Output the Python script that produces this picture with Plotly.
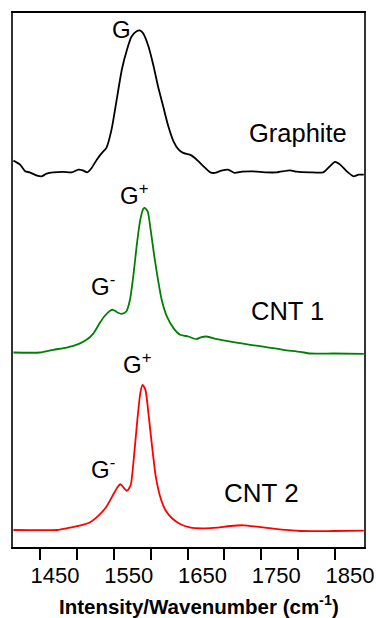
import plotly.graph_objects as go

# Wavenumbers (cm^-1) and relative intensities
graphite_x = [1414, 1423, 1430, 1436, 1446, 1452, 1459, 1468, 1482, 1493, 1502, 1508, 1514, 1520,
              1527, 1534, 1540, 1547, 1554, 1561, 1568, 1574, 1581, 1586, 1590, 1597, 1604, 1610,
              1617, 1624, 1631, 1638, 1644, 1653, 1660, 1667, 1674, 1681, 1687, 1696, 1705, 1714,
              1724, 1739, 1757, 1771, 1789, 1798, 1816, 1834, 1843, 1850, 1857, 1866, 1875, 1882, 1889]
graphite_y = [12, 8, 1.3, 0.3, -3, -3.7, -1, 0.3, 0.7, 0.3, 3, 2.3, 0.3, 4.7,
              13, 19.7, 24.7, 43, 73, 103, 123, 135.7, 141.3, 142, 139, 126.3, 106.3, 86.3,
              66.3, 46.3, 31.3, 23, 19.7, 18, 14.7, 9.7, 4.7, 0.3, -0.3, 2, 3, -0.3,
              1, 1.3, 0.3, 0.3, 2.3, 1, 0.3, 0.3, 6.3, 10.7, 8, 1.3, -3.7, -2, -2]

cnt1_x = [1414, 1450, 1468, 1486, 1502, 1513, 1522, 1531, 1538, 1545, 1549, 1555, 1561, 1567,
          1572, 1577, 1581, 1586, 1590, 1592, 1596, 1600, 1605, 1610, 1615, 1622, 1631, 1640,
          1651, 1662, 1669, 1676, 1690, 1712, 1735, 1757, 1780, 1803, 1816, 1848, 1889]
cnt1_y = [0.3, 0.3, 3, 5.3, 8.7, 13, 19, 29.7, 37, 42, 43, 40.3, 39, 41.3,
          53, 79.7, 106.3, 133, 143.7, 144.7, 141.3, 123, 96.3, 73, 53, 36.3, 24.7, 18,
          16.3, 13.7, 15.7, 16.3, 13.7, 10.7, 8, 5.7, 3, 1, -0.7, -0.7, -1]

cnt2_x = [1414, 1473, 1486, 1504, 1518, 1529, 1540, 1549, 1555, 1559, 1564, 1568, 1573, 1577,
          1582, 1586, 1589, 1593, 1597, 1602, 1607, 1613, 1620, 1629, 1640, 1653, 1671, 1690,
          1708, 1726, 1744, 1766, 1803, 1848, 1889]
cnt2_y = [0, 0, 1.7, 4.3, 7.7, 14, 23.3, 35, 42.7, 45.7, 41.7, 39, 45, 70,
          110, 136.7, 145, 140, 116.7, 83.3, 53.3, 33.3, 20, 11.7, 6, 2.7, 1.7, 2.3,
          4, 4.7, 3.3, 1.3, -1, -1, -0.7]

offsets = {"Graphite": 374, "CNT 1": 194, "CNT 2": 17}
colors = {"Graphite": "#000000", "CNT 1": "#008000", "CNT 2": "#ff0000"}

tick_vals = [1450, 1550, 1650, 1750, 1850]
tick_text = ["1450", "1550", "1650", "1750", "1850"]

series = [("Graphite", graphite_x, graphite_y),
          ("CNT 1", cnt1_x, cnt1_y),
          ("CNT 2", cnt2_x, cnt2_y)]

fig = go.Figure()
for name, xs, ys in series:
    off = offsets[name]
    fig.add_trace(go.Scatter(
        x=xs, y=[v + off for v in ys], mode="lines", name=name,
        line=dict(color=colors[name], width=1.8, shape="spline", smoothing=0.6),
        showlegend=False, hoverinfo="skip"))

font_main = "Liberation Sans, Arial, sans-serif"
labels = [
    (1560, 517, "G", 24),
    (1800, 414, "Graphite", 25.5),
    (1577, 353, "G<sup>+</sup>", 24),
    (1535, 262, "G<sup>-</sup>", 24),
    (1785, 236, "CNT 1", 25.5),
    (1581, 184, "G<sup>+</sup>", 24),
    (1535, 79, "G<sup>-</sup>", 24),
    (1750, 54, "CNT 2", 26),
]
for lx, ly, txt, fs in labels:
    fig.add_annotation(x=lx, y=ly, xref="x", yref="y", text=txt, showarrow=False,
                       font=dict(family=font_main, size=fs, color="black"),
                       xanchor="center", yanchor="middle")

# x-axis title (placed as annotation to match its offset in the reference)
fig.add_annotation(x=0.531, y=-0.108, xref="paper", yref="paper",
                   text="<b>Intensity/Wavenumber (cm<sup>-1</sup>)</b>", showarrow=False,
                   font=dict(family=font_main, size=20.5, color="black"),
                   xanchor="center", yanchor="middle")

fig.update_layout(
    width=376, height=618,
    margin=dict(l=13, r=12, t=13, b=71),
    paper_bgcolor="white", plot_bgcolor="white",
    font=dict(family=font_main, color="black"),
)
fig.update_xaxes(
    range=[1413.4, 1889.3], showgrid=False, zeroline=False, automargin=False,
    showline=True, linecolor="black", linewidth=1.5, mirror=True,
    ticks="outside", ticklen=11, tickwidth=1.5, tickcolor="black",
    tickvals=tick_vals, ticktext=tick_text,
    minor=dict(ticks="outside", ticklen=11, tickwidth=1.5, tickcolor="black",
               tick0=1450, dtick=50, showgrid=False),
    ticklabelshift=15, ticklabelstandoff=-3,
    tickfont=dict(family=font_main, size=22, color="black"),
)
fig.update_yaxes(
    range=[0, 533.5], showgrid=False, zeroline=False, showticklabels=False, automargin=False,
    showline=True, linecolor="#333333", linewidth=1.5, mirror=True, ticks="",
)

fig.write_html("out.html")
